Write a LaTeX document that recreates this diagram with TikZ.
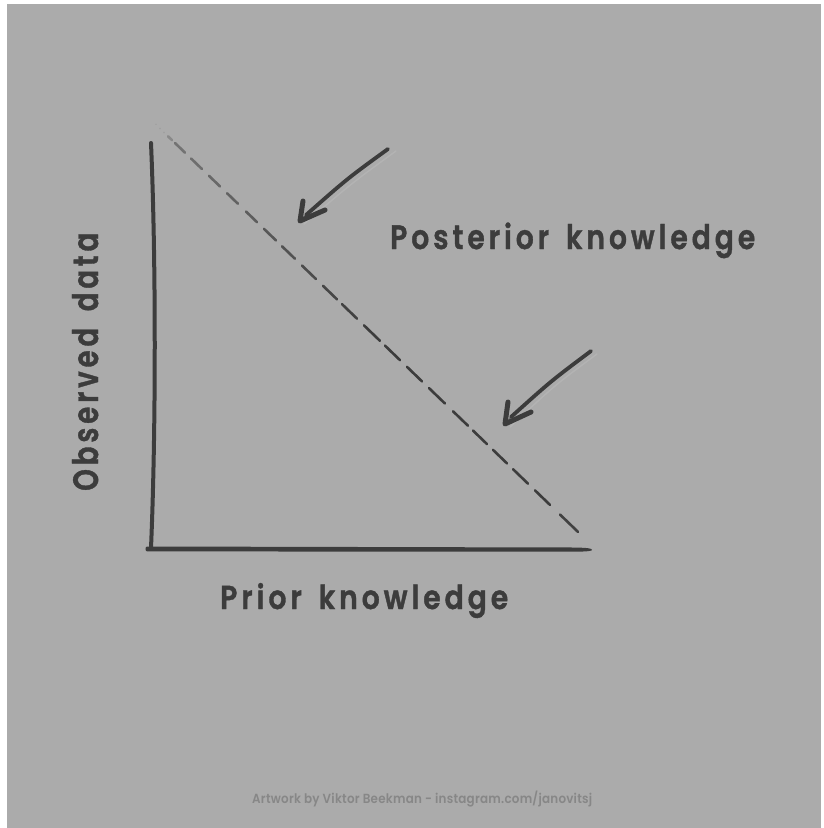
\documentclass[tikz,border=0pt]{standalone}
\usepackage{fontspec}
\usepackage{graphicx}
\setmainfont{Poppins}
% pick the heaviest "medium" cut that is available for the labels
\IfFontExistsTF{Poppins SemiBold}{%
  \newfontfamily\labelfont{Poppins SemiBold}[LetterSpace=14, FakeBold=1.2]%
  \newfontfamily\creditfont{Poppins SemiBold}[LetterSpace=2]%
}{\IfFontExistsTF{Poppins Medium}{%
  \newfontfamily\labelfont{Poppins Medium}[LetterSpace=14, FakeBold=1.6]%
  \newfontfamily\creditfont{Poppins Medium}[LetterSpace=2]%
}{%
  \newfontfamily\labelfont{Poppins}[LetterSpace=14, UprightFont=*-Bold]%
  \newfontfamily\creditfont{Poppins}[LetterSpace=2]%
}}
\newcommand{\wordgap}{\hspace{0.6em}}
\definecolor{paper}{HTML}{ABABAB}
\definecolor{ink}{HTML}{3C3C3C}
\definecolor{credit}{HTML}{878787}
\tikzset{
  axisline/.style={ink, line width=4pt, line cap=round},
  shaft/.style={ink, line width=3.8pt, line cap=round},
  shafttip/.style={ink, opacity=0.4, line width=1.2pt, line cap=round},
  barb/.style={ink, line width=5pt, line cap=round, line join=round},
  ghost/.style={white, opacity=0.1, line width=1.4pt, line cap=round},
  axislabel/.style={inner sep=0pt, text=ink, font=\labelfont},
  creditlabel/.style={inner sep=0pt, text=credit, font=\creditfont},
}
\begin{document}
\begin{tikzpicture}[x=1pt, y=-1pt]
  % paper
  \useasboundingbox (0,0) rectangle (823,828);
  \fill[white] (0,0) rectangle (823,828);
  \fill[paper] (7,4) rectangle (821,828);

  % vertical axis, slightly bowed
  \coordinate (ytop) at (151,143);
  \coordinate (origin) at (151,548);
  \draw[axisline] (ytop) .. controls (156,260) and (156,430) .. (origin);

  % horizontal axis, tapering to the right
  \fill[ink] (147,546.5) -- (575,547.5)
    .. controls (588,547.8) and (592,548.5) .. (592,549.8)
    .. controls (592,551) and (588,551.5) .. (575,551.7)
    -- (147,551.4) .. controls (145,551.2) and (145,546.7) .. (147,546.5) -- cycle;

  % dashed diagonal, fading out towards the top
  \fill[ink, opacity=0.12] (156,124.3) circle (0.8) (160,128.5) circle (0.8) (164,132.4) circle (0.9);
  \foreach \xa/\xb/\op in {168/172/0.3, 175/185/0.5, 191/202/0.55, 209/220/0.6,
      227/238/0.65, 246/257/0.7, 264/276/0.75, 282/295/0.8, 302/316/0.85,
      323/337/0.9, 342/357/0.95, 364/380/1, 385/400/1, 407/422/1, 429/445/1,
      453/468/1, 473/487/1, 493/507/1, 513/528/1, 535/550/1, 560/578/0.95} {
    \pgfmathsetmacro{\ya}{143+0.965*(\xa-175)}
    \pgfmathsetmacro{\yb}{143+0.965*(\xb-175)}
    \draw[ink, opacity=\op, line width=2.6pt, line cap=round] (\xa,\ya) -- (\xb,\yb);
  }

  % upper arrow
  \coordinate (tailA) at (388,149);
  \coordinate (tipA) at (300,221);
  \coordinate (barbAa) at (303,201);
  \coordinate (barbAb) at (325,210);
  \draw[ghost] (396,151) .. controls (352,183) .. (304,224);
  \draw[shaft] (tailA) .. controls (348,178) .. (306,215);
  \draw[shafttip] (306,215) -- (tipA);
  \draw[barb] (barbAa) -- (tipA) -- (barbAb);

  % lower arrow
  \coordinate (tailB) at (591,351);
  \coordinate (tipB) at (505,424);
  \coordinate (barbBa) at (508,402);
  \coordinate (barbBb) at (531,412);
  \draw[ghost] (597,354) .. controls (555,385) .. (510,427);
  \draw[shaft] (tailB) .. controls (551,381) .. (511,417);
  \draw[shafttip] (511,417) -- (tipB);
  \draw[barb] (barbBa) -- (tipB) -- (barbBb);

  % labels
  \node[axislabel, anchor=base west] (posterior) at (390,249)
    {\resizebox{365pt}{26.5pt}{Posterior\wordgap knowledge}};
  \node[axislabel, anchor=base west] (prior) at (220,609)
    {\resizebox{288pt}{26pt}{Prior\wordgap knowledge}};
  \node[axislabel, anchor=base west, rotate=90] (observed) at (98,491)
    {\resizebox{258pt}{26pt}{Observed\wordgap data}};
  \node[creditlabel, anchor=base west] (credit) at (252,803)
    {\resizebox{340pt}{12.5pt}{Artwork by Viktor Beekman - instagram.com/janovitsj}};
\end{tikzpicture}
\end{document}
